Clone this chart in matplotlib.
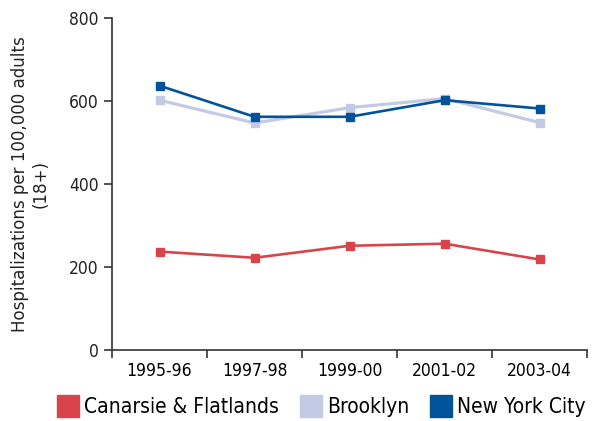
import numpy as np
import matplotlib.pyplot as plt
from matplotlib.lines import Line2D

periods = ["1995-96", "1997-98", "1999-00", "2001-02", "2003-04"]
canarsie = [237, 222, 251, 256, 218]
brooklyn = [602, 547, 584, 606, 548]
nyc = [637, 562, 562, 602, 582]

c_red = "#d9444b"
c_bk = "#c3cae4"
c_nyc = "#00529b"

plt.rcParams['font.family'] = ['DejaVu Sans']
plt.rcParams['font.stretch'] = 'condensed'
fig = plt.figure(figsize=(5.96, 4.21), dpi=100)
ax = fig.add_axes([0.188, 0.169, 0.797, 0.788])

x = np.arange(len(periods))
ax.plot(x, canarsie, color=c_red, marker='s', markersize=6, linewidth=1.9)
ax.plot(x, brooklyn, color=c_bk, marker='s', markersize=6, linewidth=2.3)
ax.plot(x, nyc, color=c_nyc, marker='s', markersize=6, linewidth=1.9)

ax.set_xlim(-0.5, len(periods) - 0.5)
ax.set_ylim(0, 800)
ax.set_yticks([0, 200, 400, 600, 800])
ax.set_xticks(np.arange(-0.5, len(periods)), [])
ax.set_xticks(x, periods, minor=True)
ax.tick_params(axis='x', which='minor', length=0, pad=9)
ax.tick_params(axis='both', which='major', direction='out', length=6, width=1.2, color='#333333')
ax.tick_params(labelsize=12.5, labelcolor='#222222')
for lab in ax.get_xticklabels(minor=True):
    lab.set_fontsize(12.5)

for s in ['top', 'right']:
    ax.spines[s].set_visible(False)
for s in ['left', 'bottom']:
    ax.spines[s].set_linewidth(1.2)
    ax.spines[s].set_color('#333333')

ax.set_ylabel("Hospitalizations per 100,000 adults\n(18+)", fontsize=13.3, color='#222222', labelpad=14)

handles = [Line2D([], [], linestyle='none', marker='s', markersize=15.5, color=c)
           for c in (c_red, c_bk, c_nyc)]
fig.legend(handles, ["Canarsie & Flatlands", "Brooklyn", "New York City"],
           loc='center', bbox_to_anchor=(0.54, 0.033), ncol=3, frameon=False,
           fontsize=15, handletextpad=0.25, columnspacing=1.05, handlelength=1.0)

fig.savefig("out.png", dpi=100)
